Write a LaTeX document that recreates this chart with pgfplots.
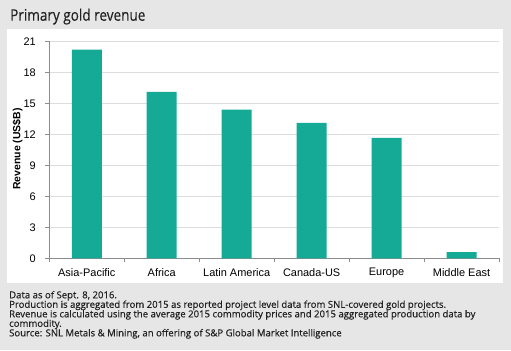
\documentclass[border=0pt]{standalone}
\usepackage{fontspec}
\setmainfont{Liberation Sans}
\newfontfamily\opensanstitle[FakeBold=0.3]{Open Sans}
\newfontfamily\opensansfb[FakeBold=0.5]{Open Sans}
\usepackage{pgfplots}
\pgfplotsset{compat=1.18}
\definecolor{bg}{HTML}{E6E6E6}
\definecolor{barc}{HTML}{14AA96}
\definecolor{gridc}{HTML}{DDDDDD}
\definecolor{axisgray}{HTML}{8C8C8C}
\definecolor{txt}{HTML}{222222}
\begin{document}
\begin{tikzpicture}[x=1bp,y=1bp]
\fill[bg] (0,0) rectangle (511,350);
\fill[white] (7,67.3) rectangle (503,320.7);
\node[anchor=base west, inner sep=0, font=\opensanstitle\fontsize{16}{19}\selectfont, text=txt] at (10,329.3) {\scalebox{0.85}[1]{Primary gold revenue}};
\begin{scope}[every node/.style={anchor=base west, inner sep=0, font=\opensansfb\fontsize{9.6}{10}\selectfont, text=txt}]
\node at (9,51.7) {Data as of Sept. 8, 2016.};
\node at (9,42.2) {Production is aggregated from 2015 as reported project level data from SNL-covered gold projects.};
\node at (9,32.7) {Revenue is calculated using the average 2015 commodity prices and 2015 aggregated production data by};
\node at (9,23.2) {commodity.};
\node at (9,13.7) {Source: SNL Metals \& Mining, an offering of S\&P Global Market Intelligence};
\end{scope}
\begin{axis}[
  at={(49.3bp,91.7bp)}, anchor=south west, scale only axis,
  width=449.7bp, height=217bp,
  xmin=-0.5, xmax=5.5, ymin=0, ymax=21,
  ytick={0,3,...,21},
  xtick={0,...,5},
  xticklabels={Asia-Pacific,Africa,Latin America,Canada-US,Europe,Middle East},
  minor xtick={-0.5,0.5,...,5.5},
  tick align=outside,
  major tick length=4bp, minor tick length=4bp,
  major x tick style={draw=none},
  minor x tick style={axisgray, line width=0.8bp},
  major y tick style={axisgray, line width=0.8bp},
  axis x line*=bottom, axis y line*=left,
  axis line style={axisgray, line width=0.8bp, -},
  ymajorgrids, major grid style={gridc, line width=1bp},
  ticklabel style={font=\fontsize{11}{13}\selectfont, text=black},
  yticklabel style={xshift=-6bp},
  xticklabel style={yshift=-2.5bp},
  /pgf/number format/assume math mode=true,
  ylabel={Revenue (US\$B)},
  every axis y label/.style={at={(axis description cs:-0.0707,0.504)}, rotate=90, anchor=center, font=\bfseries\fontsize{10.5}{12}\selectfont},
]
\addplot[ybar, fill=barc, draw=none, bar width=30bp] coordinates {(0,20.2) (1,16.1) (2,14.4) (3,13.1) (4,11.65) (5,0.6)};
\end{axis}
\end{tikzpicture}
\end{document}
